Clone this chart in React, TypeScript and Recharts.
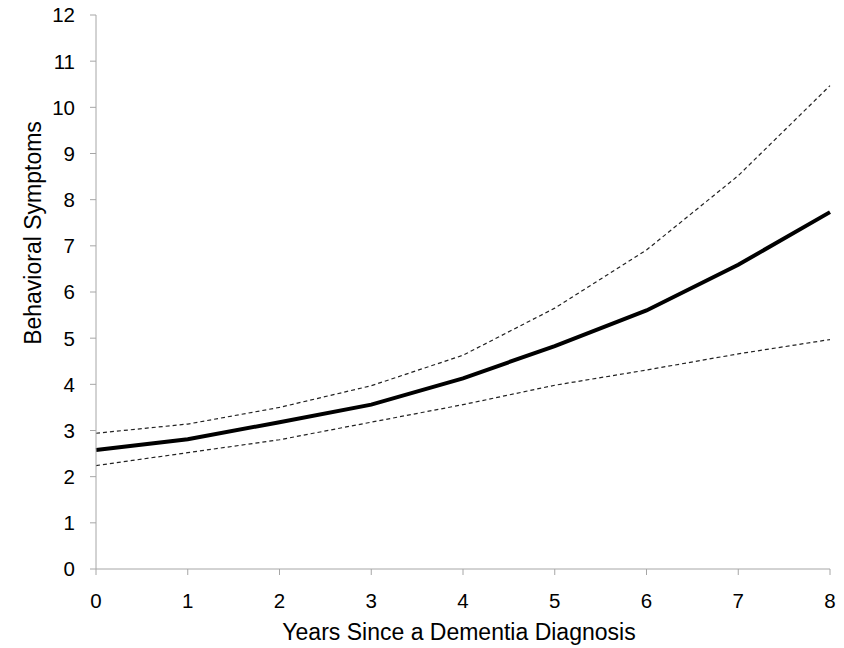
import { Label, Line, LineChart, XAxis, YAxis } from 'recharts'

const years = [0, 1, 2, 3, 4, 5, 6, 7, 8]
const estimate = [2.58, 2.81, 3.18, 3.56, 4.13, 4.83, 5.6, 6.59, 7.73]
const upperCI = [2.94, 3.14, 3.5, 3.97, 4.63, 5.65, 6.91, 8.52, 10.47]
const lowerCI = [2.24, 2.52, 2.8, 3.18, 3.56, 3.98, 4.31, 4.66, 4.97]
const xTicks = [0, 1, 2, 3, 4, 5, 6, 7, 8]
const yTicks = [0, 1, 2, 3, 4, 5, 6, 7, 8, 9, 10, 11, 12]

const font = '"Liberation Sans", Arial, sans-serif'
const axisGray = '#a6a6a6'

const XTick = ({ x, y, payload }: any) => (
  <text x={x} y={y} dy="0.72em" textAnchor="middle" fontSize={20.5} fill="#000" fontFamily={font}>
    {payload.value}
  </text>
)

const YTick = ({ x, y, payload }: any) => (
  <text x={x} y={y} dy="0.36em" textAnchor="end" fontSize={20.5} fill="#000" fontFamily={font}>
    {payload.value}
  </text>
)

export default function App() {
  const data = years.map((y, i) => ({
    year: y,
    estimate: estimate[i],
    upper: upperCI[i],
    lower: lowerCI[i],
  }))

  return (
    <div style={{ position: 'absolute', left: 0, top: 0, width: 844, height: 648, background: '#fff' }}>
      <LineChart
        width={844}
        height={648}
        data={data}
        margin={{ top: 15, right: 14, bottom: 0, left: 0 }}
        style={{ fontFamily: font }}
      >
        <XAxis
          dataKey="year"
          type="number"
          domain={[0, 8]}
          ticks={xTicks}
          interval={0}
          height={79}
          stroke={axisGray}
          tickSize={6}
          tickMargin={18}
          tick={<XTick />}
        >
          <Label
            content={({ viewBox }: any) => (
              <text
                x={viewBox.x + viewBox.width / 2 - 4}
                y={640}
                textAnchor="middle"
                fontSize={23}
                fill="#000"
              >
                Years Since a Dementia Diagnosis
              </text>
            )}
          />
        </XAxis>
        <YAxis
          type="number"
          domain={[0, 12]}
          ticks={yTicks}
          interval={0}
          width={96}
          stroke={axisGray}
          tickSize={6}
          tickMargin={15}
          tick={<YTick />}
        >
          <Label
            content={() => (
              <text
                x={41}
                y={233}
                transform="rotate(-90, 41, 233)"
                textAnchor="middle"
                fontSize={23}
                fill="#000"
              >
                Behavioral Symptoms
              </text>
            )}
          />
        </YAxis>
        <Line
          type="linear"
          dataKey="upper"
          stroke="#222"
          strokeWidth={1.2}
          strokeDasharray="4 3"
          dot={false}
          isAnimationActive={false}
        />
        <Line
          type="linear"
          dataKey="lower"
          stroke="#222"
          strokeWidth={1.2}
          strokeDasharray="4 3"
          dot={false}
          isAnimationActive={false}
        />
        <Line
          type="linear"
          dataKey="estimate"
          stroke="#000"
          strokeWidth={4}
          dot={false}
          isAnimationActive={false}
        />
      </LineChart>
    </div>
  )
}
